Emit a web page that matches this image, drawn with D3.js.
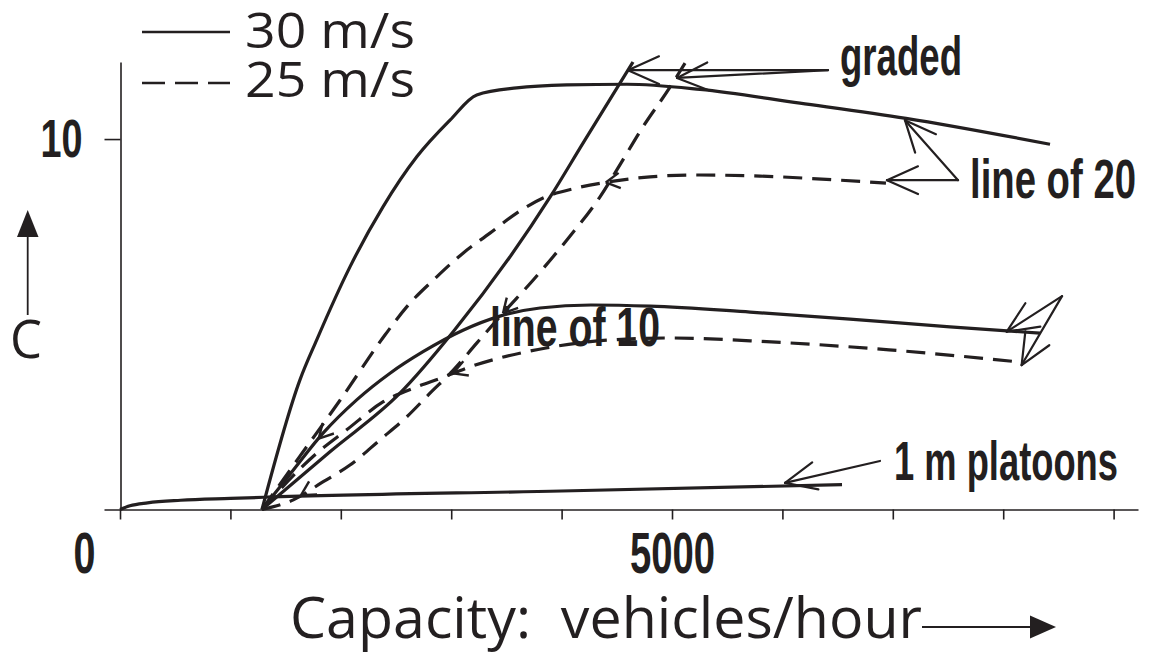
<!DOCTYPE html>
<html><head><meta charset="utf-8">
<script src="https://cdn.jsdelivr.net/npm/d3@7"></script>
<style>body{margin:0;background:#fff}svg{display:block}</style>
</head><body>
<svg id="chart" width="1152" height="652"></svg>
<script>
// ---------- data ----------
const xTicks = [0,1000,2000,3000,4000,5000,6000,7000,8000,9000];
const xTickLabels = {0:"0", 5000:"5000"};
const yTicks = [10];
const yTickLabels = {10:"10"};
const legendLabels = ["30 m/s","25 m/s"];

const platoons30 = [[0,0],[90,0.1],[250,0.18],[550,0.25],[1000,0.3],[1300,0.33],[4000,0.5],[6540,0.67]];
const graded30 = [[1286,0],[1902,1.56],[2536,3.14],[3016,4.79],[3895,8.43],[4194,9.89],[4647,12.08]];
const graded25 = [[1286,0],[1570,0.26],[1841,0.75],[2083,1.2],[2355,1.88],[2597,2.5],[2808,3.14],[3019,3.76],[3231,4.49],[3469,5.3],[3741,6.19],[4046,7.27],[4348,8.44],[4499,9.16],[4737,10.33],[4982,11.4],[5118,12.05]];
const line20_30 = [[1286,0],[1630,3.5],[1782,4.58],[2083,6.55],[2382,8.17],[2688,9.52],[2989,10.51],[3231,11.19],[3593,11.38],[4046,11.46],[4590,11.48],[5254,11.34],[6159,10.97],[7120,10.56],[8424,9.86]];
const line20_25 = [[1286,0],[1630,1.44],[1993,2.95],[2400,4.71],[2597,5.47],[2869,6.28],[3107,6.92],[3351,7.46],[3593,8.0],[3832,8.41],[4137,8.68],[4438,8.85],[4801,8.98],[5190,9.03],[5797,9.0],[6522,8.89],[6938,8.81]];
const line10_30 = [[1286,0],[1540,0.95],[1839,2.06],[2144,2.96],[2446,3.68],[2745,4.26],[3107,4.84],[3442,5.22],[3804,5.44],[4266,5.52],[4801,5.49],[5707,5.33],[6612,5.14],[7518,4.93],[8333,4.76]];
const line10_25 = [[1286,0],[1782,1.52],[2053,2.15],[2385,2.91],[2688,3.31],[2899,3.54],[3170,3.85],[3859,4.36],[4411,4.57],[4969,4.63],[5856,4.53],[6966,4.31],[8152,3.98]];

const seriesList = [
  {name:"platoons30", data:platoons30, dashed:false},
  {name:"graded30", data:graded30, dashed:false},
  {name:"graded25", data:graded25, dashed:true},
  {name:"line20_30", data:line20_30, dashed:false},
  {name:"line20_25", data:line20_25, dashed:true},
  {name:"line10_30", data:line10_30, dashed:false},
  {name:"line10_25", data:line10_25, dashed:true}
];

// label pointer arrows (data coordinates: from -> to)
const labelArrows = [
  {from:[6413,11.86], to:[4601,11.86]},
  {from:[6413,11.86], to:[5045,11.65]},
  {from:[7591,8.89], to:[7110,10.51]},
  {from:[7591,8.89], to:[6947,8.89]},
  {from:[8533,5.76], to:[8032,4.80]},
  {from:[8533,5.76], to:[8167,3.90]},
  {from:[6884,1.31], to:[6024,0.72]}
];
// small direction marks on curves
const dirMarks = [
  {series:"line20_25", x:4400},
  {series:"graded25", x:3469},
  {series:"line10_30", x:1800},
  {series:"line10_25", x:3016},
  {series:"graded25", x:1640}
];

// ---------- drawing ----------
const svg = d3.select("#chart");
const x = d3.scaleLinear().domain([-145, 9221]).range([104, 1138]);
const y = d3.scaleLinear().domain([0, 12.08]).range([509.5, 62]);

const condensed = "'Liberation Sans Narrow','Liberation Sans',Arial,sans-serif";
const regular = "'Open Sans','Noto Sans',sans-serif";

// axes
const xAxis = d3.axisBottom(x).tickValues(xTicks).tickSize(10).tickSizeOuter(0).tickPadding(12)
  .tickFormat(d => xTickLabels[d] || "");
const gx = svg.append("g").attr("transform", "translate(0,509.5)").call(xAxis);
const yAxis = d3.axisLeft(y).tickValues(yTicks).tickSize(16).tickSizeOuter(0).tickPadding(22)
  .tickFormat(d => yTickLabels[d] || "");
const gy = svg.append("g").attr("transform", "translate(120.5,0)").call(yAxis);
[gx, gy].forEach(g => {
  g.select(".domain").attr("stroke", "#231f20").attr("stroke-width", 1.6);
  g.selectAll(".tick line").attr("stroke", "#231f20").attr("stroke-width", 1.6);
  g.selectAll(".tick text").attr("fill", "#231f20").style("font-family", condensed)
    .style("font-weight", "bold").style("font-size", "58px");
});
gx.selectAll(".tick text").each(function(d){
  const t = d3.select(this);
  if (d === 0) t.attr("x", -36).attr("textLength", 22).attr("lengthAdjust", "spacingAndGlyphs");
  if (d === 5000) t.attr("textLength", 85).attr("lengthAdjust", "spacingAndGlyphs");
});
gy.selectAll(".tick text").attr("textLength", 42).attr("lengthAdjust", "spacingAndGlyphs")
  .style("font-size", "54px");

// curves
const line = d3.line().x(d => x(d[0])).y(d => y(d[1])).curve(d3.curveMonotoneX);
svg.append("g").selectAll("path").data(seriesList).join("path")
  .attr("d", s => line(s.data))
  .attr("fill", "none").attr("stroke", "#231f20").attr("stroke-width", 3.2)
  .attr("stroke-dasharray", s => s.dashed ? "19,10" : null)
  .attr("stroke-linecap", "butt");

// arrow helper
function arrow(g, x1, y1, x2, y2, len, ang) {
  const a = Math.atan2(y1 - y2, x1 - x2);
  g.append("line").attr("x1", x1).attr("y1", y1).attr("x2", x2).attr("y2", y2);
  [ang, -ang].forEach(da => {
    g.append("line").attr("x1", x2).attr("y1", y2)
      .attr("x2", x2 + len * Math.cos(a + da)).attr("y2", y2 + len * Math.sin(a + da));
  });
}
const ga = svg.append("g").attr("stroke", "#231f20").attr("stroke-width", 2.2).attr("stroke-linecap", "round");
labelArrows.forEach(d => arrow(ga, x(d.from[0]), y(d.from[1]), x(d.to[0]), y(d.to[1]), 34, 0.42));

// direction marks
function interp(data, xv) {
  for (let i = 1; i < data.length; i++) {
    if (xv <= data[i][0]) {
      const t = (xv - data[i-1][0]) / (data[i][0] - data[i-1][0]);
      return data[i-1][1] + t * (data[i][1] - data[i-1][1]);
    }
  }
  return data[data.length-1][1];
}
const gm = svg.append("g").attr("stroke", "#231f20").attr("stroke-width", 2.4);
dirMarks.forEach(m => {
  const s = seriesList.find(d => d.name === m.series).data;
  const px = x(m.x), py = y(interp(s, m.x));
  const qx = x(m.x + 120), qy = y(interp(s, m.x + 120));
  const a = Math.atan2(qy - py, qx - px);
  [0.5, -0.5].forEach(da => {
    gm.append("line").attr("x1", px).attr("y1", py)
      .attr("x2", px + 16 * Math.cos(a + da)).attr("y2", py + 16 * Math.sin(a + da));
  });
});

// labels on chart
const labels = [
  {t:"graded", x:840, y:75, w:122},
  {t:"line of 20", x:970, y:198, w:166},
  {t:"line of 10", x:490, y:346, w:170},
  {t:"1 m platoons", x:894, y:480, w:224}
];
svg.append("g").selectAll("text").data(labels).join("text")
  .attr("x", d => d.x).attr("y", d => d.y).text(d => d.t)
  .attr("textLength", d => d.w).attr("lengthAdjust", "spacingAndGlyphs")
  .style("font-family", condensed).style("font-weight", "bold").style("font-size", "56px")
  .attr("fill", "#231f20");

// legend
const lg = svg.append("g");
lg.append("line").attr("x1", 142).attr("x2", 230).attr("y1", 32).attr("y2", 32)
  .attr("stroke", "#231f20").attr("stroke-width", 2.6);
lg.append("line").attr("x1", 142).attr("x2", 230).attr("y1", 83).attr("y2", 83)
  .attr("stroke", "#231f20").attr("stroke-width", 2.6).attr("stroke-dasharray", "23,10");
lg.selectAll("text").data(legendLabels).join("text")
  .attr("x", 245).attr("y", (d, i) => i === 0 ? 48 : 97).text(d => d)
  .attr("textLength", 170).attr("lengthAdjust", "spacingAndGlyphs")
  .style("font-family", regular).style("font-size", "50px").attr("fill", "#231f20");

// y axis title with arrow
svg.append("text").attr("x", 10).attr("y", 358).text("C")
  .attr("textLength", 32).attr("lengthAdjust", "spacingAndGlyphs")
  .style("font-family", regular).style("font-size", "53px").attr("fill", "#231f20");
svg.append("line").attr("x1", 27.7).attr("x2", 27.7).attr("y1", 315).attr("y2", 232)
  .attr("stroke", "#231f20").attr("stroke-width", 1.8);
svg.append("path").attr("d", "M27.7,210 L38.5,237 L17,237 Z").attr("fill", "#231f20");

// x axis title with arrow
svg.append("text").attr("x", 290).attr("y", 638).text("Capacity:  vehicles/hour")
  .attr("xml:space", "preserve").style("white-space", "pre")
  .attr("textLength", 632).attr("lengthAdjust", "spacingAndGlyphs")
  .style("font-family", regular).style("font-size", "56px").attr("fill", "#231f20");
svg.append("line").attr("x1", 922).attr("x2", 1032).attr("y1", 627).attr("y2", 627)
  .attr("stroke", "#231f20").attr("stroke-width", 1.8);
svg.append("path").attr("d", "M1056,627 L1030,615.5 L1030,638.5 Z").attr("fill", "#231f20");
</script>
</body></html>
